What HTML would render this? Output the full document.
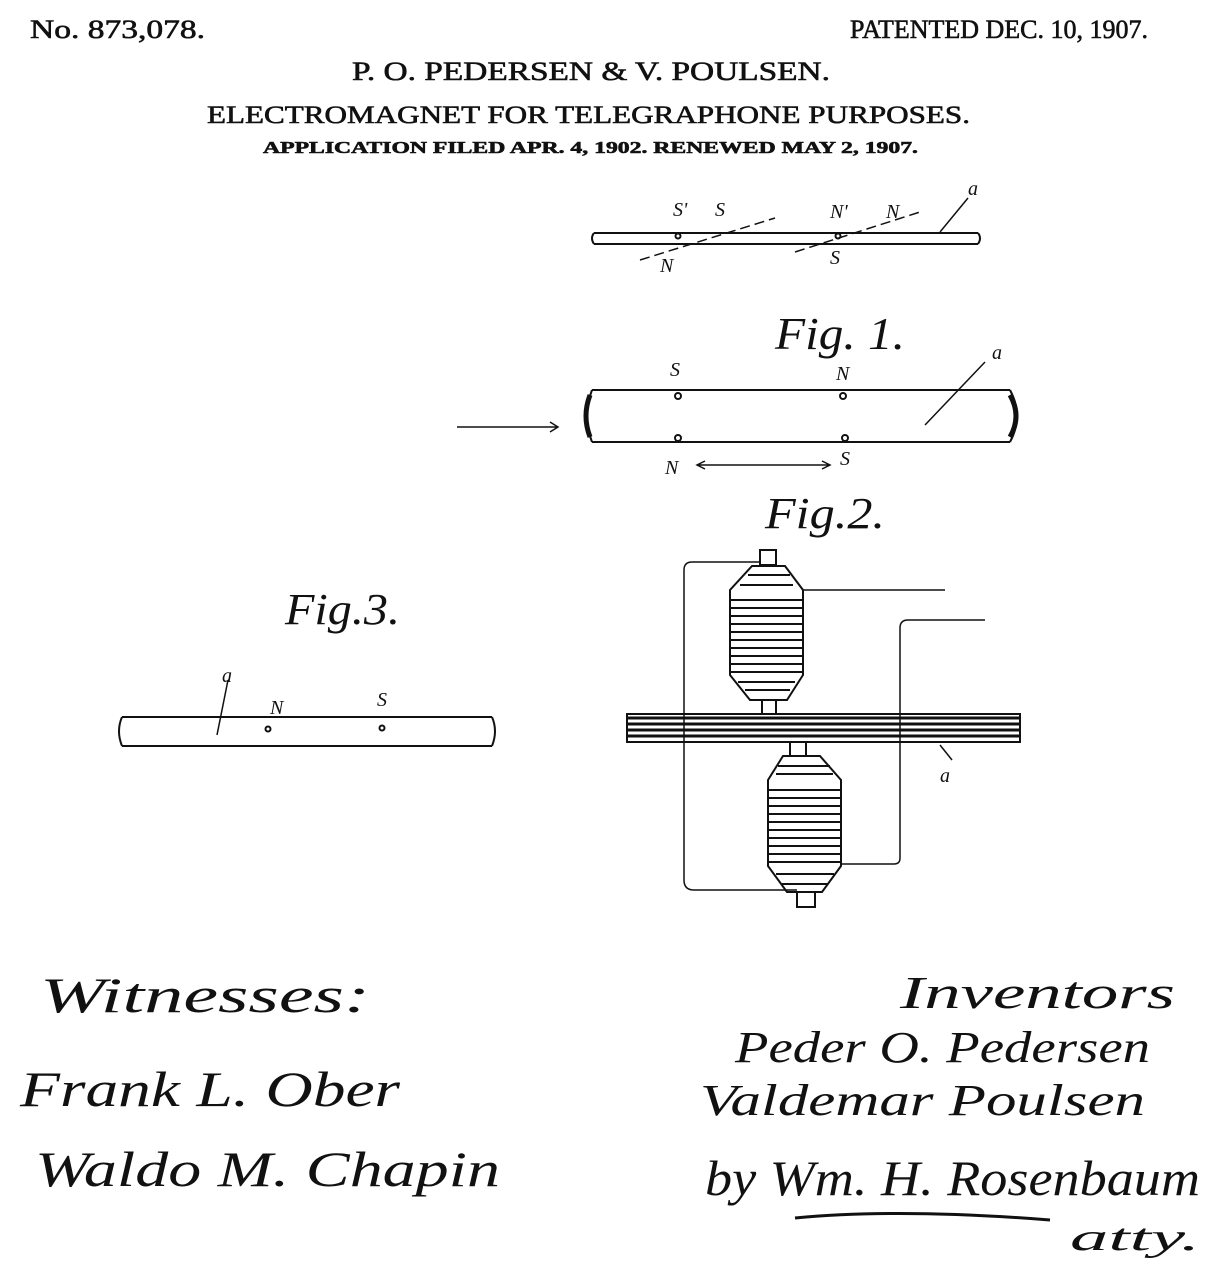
<!DOCTYPE html>
<html><head><meta charset="utf-8"><style>
html,body{margin:0;padding:0;background:#fff;}
svg{display:block;}
.t{font-family:"Liberation Serif",serif;fill:#111;stroke:#111;stroke-width:0.6;}
.s{font-family:"Liberation Serif",serif;font-style:italic;fill:#111;}
</style></head><body>
<svg width="1211" height="1280" viewBox="0 0 1211 1280" xmlns="http://www.w3.org/2000/svg">
<g class="t" lengthAdjust="spacingAndGlyphs">
<text x="30" y="38" font-size="26" textLength="175" lengthAdjust="spacingAndGlyphs">No. 873,078.</text>
<text x="850" y="38" font-size="26" textLength="298" lengthAdjust="spacingAndGlyphs">PATENTED DEC. 10, 1907.</text>
<text x="352" y="80" font-size="26" textLength="478" lengthAdjust="spacingAndGlyphs">P. O. PEDERSEN &amp; V. POULSEN.</text>
<text x="207" y="123" font-size="25" textLength="763" lengthAdjust="spacingAndGlyphs">ELECTROMAGNET FOR TELEGRAPHONE PURPOSES.</text>
<text x="263" y="153" font-size="17" font-weight="bold" textLength="655" lengthAdjust="spacingAndGlyphs">APPLICATION FILED APR. 4, 1902. RENEWED MAY 2, 1907.</text>
</g>
<g fill="none" stroke="#111" stroke-width="2">
<path d="M594 233 L978 233 M594 244 L978 244 M594 233 q-4 5 0 11 M978 233 q4 5 0 11"/>
<path d="M640 260 L775 218 M795 252 L920 212" stroke-dasharray="10,5" stroke-width="1.5"/>
<circle cx="678" cy="236" r="2.5"/><circle cx="838" cy="236" r="2.5"/>
<path d="M940 232 L968 198" stroke-width="1.5"/>
<path d="M592 390 L1010 390 M592 442 L1010 442 M592 390 q-10 26 0 52 M1010 390 q14 26 0 52"/>
<path d="M590 395 q-8 21 0 42 M1010 395 q12 21 0 42" stroke-width="5"/>
<path d="M457 427 L558 427 M550 422 L558 427 L550 432" stroke-width="1.5"/>
<circle cx="678" cy="396" r="3"/><circle cx="843" cy="396" r="3"/>
<circle cx="678" cy="438" r="3"/><circle cx="845" cy="438" r="3"/>
<path d="M697 465 L830 465 M705 461 L697 465 L705 469 M822 461 L830 465 L822 469" stroke-width="1.5"/>
<path d="M925 425 L985 362" stroke-width="1.5"/>
<path d="M122 717 L492 717 M122 746 L492 746 M122 717 q-6 14 0 29 M492 717 q6 14 0 29"/>
<circle cx="268" cy="729" r="2.5"/><circle cx="382" cy="728" r="2.5"/>
<path d="M217 735 L228 680" stroke-width="1.5"/>
<rect x="627" y="714" width="393" height="28" fill="#fff"/>
<path d="M627 718 L1020 718 M627 724 L1020 724 M627 730 L1020 730 M627 736 L1020 736" stroke-width="3"/>
<path d="M760 550 h16 v15 h-16z M762 700 h14 v14 h-14z"/>
<path d="M752 566 L785 566 L803 590 L803 675 L787 700 L750 700 L730 675 L730 590 Z"/>
<path d="M730 600 H803 M730 608 H803 M730 616 H803 M730 624 H803 M730 632 H803 M730 640 H803 M730 648 H803 M730 656 H803 M730 664 H803 M730 672 H803 M740 585 H793 M738 682 H795 M745 690 H790 M748 575 H790"/>
<path d="M790 742 h16 v14 h-16z M797 892 h18 v15 h-18z"/>
<path d="M783 756 L820 756 L841 780 L841 866 L822 892 L787 892 L768 866 L768 780 Z"/>
<path d="M768 790 H841 M768 798 H841 M768 806 H841 M768 814 H841 M768 822 H841 M768 830 H841 M768 838 H841 M768 846 H841 M768 854 H841 M768 862 H841 M776 774 H833 M778 766 H830 M776 874 H834 M782 884 H828"/>
<path d="M760 562 L692 562 q-8 0 -8 8 L684 880 q0 10 10 10 L797 890" stroke-width="1.5"/>
<path d="M803 590 L945 590" stroke-width="1.5"/>
<path d="M985 620 L908 620 q-8 0 -8 8 L900 858 q0 6 -6 6 L841 864" stroke-width="1.5"/>
<path d="M940 745 L952 760" stroke-width="1.5"/>
</g>
<g class="s" font-size="20">
<text x="673" y="216">S'</text><text x="715" y="216">S</text>
<text x="830" y="218">N'</text><text x="886" y="218">N</text>
<text x="660" y="272">N</text><text x="830" y="264">S</text>
<text x="968" y="195">a</text>
<text x="670" y="376">S</text><text x="836" y="380">N</text>
<text x="665" y="474">N</text><text x="840" y="465">S</text>
<text x="992" y="359">a</text>
<text x="222" y="682">a</text><text x="270" y="714">N</text><text x="377" y="706">S</text>
<text x="940" y="782">a</text>
</g>
<g class="s">
<text x="775" y="349" font-size="46" textLength="130" lengthAdjust="spacingAndGlyphs">Fig. 1.</text>
<text x="765" y="528" font-size="44" textLength="120" lengthAdjust="spacingAndGlyphs">Fig.2.</text>
<text x="285" y="624" font-size="44" textLength="115" lengthAdjust="spacingAndGlyphs">Fig.3.</text>
<text x="40" y="1012" font-size="50" textLength="330" lengthAdjust="spacingAndGlyphs">Witnesses:</text>
<text x="20" y="1106" font-size="50" textLength="380" lengthAdjust="spacingAndGlyphs">Frank L. Ober</text>
<text x="35" y="1186" font-size="50" textLength="465" lengthAdjust="spacingAndGlyphs">Waldo M. Chapin</text>
<text x="900" y="1008" font-size="46" textLength="275" lengthAdjust="spacingAndGlyphs">Inventors</text>
<text x="735" y="1062" font-size="44" textLength="415" lengthAdjust="spacingAndGlyphs">Peder O. Pedersen</text>
<text x="700" y="1115" font-size="44" textLength="445" lengthAdjust="spacingAndGlyphs">Valdemar Poulsen</text>
<text x="705" y="1195" font-size="50" textLength="495" lengthAdjust="spacingAndGlyphs">by  Wm. H. Rosenbaum</text>
<text x="1070" y="1250" font-size="38" textLength="130" lengthAdjust="spacingAndGlyphs">atty.</text>
</g>
<path d="M795 1218 Q900 1208 1050 1220" fill="none" stroke="#111" stroke-width="3"/>
</svg>
</body></html>
